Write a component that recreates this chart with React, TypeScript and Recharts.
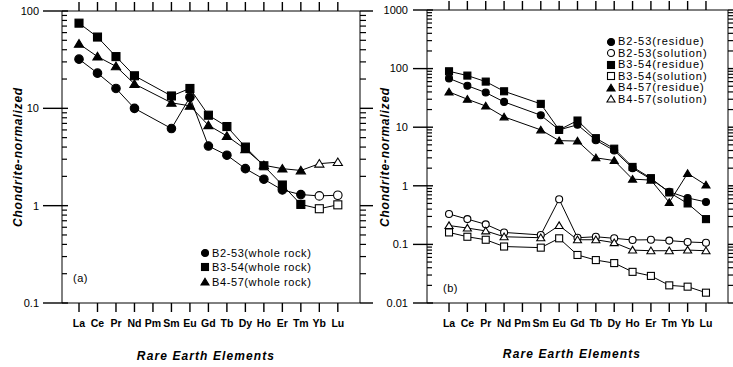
import React from 'react';
import { LineChart, Line, XAxis, YAxis, Legend, ReferenceLine } from 'recharts';

const REE = ['La', 'Ce', 'Pr', 'Nd', 'Pm', 'Sm', 'Eu', 'Gd', 'Tb', 'Dy', 'Ho', 'Er', 'Tm', 'Yb', 'Lu'];

// (a) whole rock
const A_B2_53 = [32, 23, 16, 10, null, 6.2, 13, 4.1, 3.3, 2.4, 1.87, 1.45, 1.3, 1.26, 1.28];
const A_B3_54 = [75, 54, 34, 21.6, null, 13.4, 16, 8.5, 6.5, 4.0, 2.57, 1.63, 1.03, 0.93, 1.02];
const A_B4_57 = [46, 34, 27, 17.8, null, 11.4, 10.6, 6.7, 5.2, 3.8, 2.6, 2.4, 2.3, 2.7, 2.8];

// (b) residue / solution
const B_B2_53_RES = [68, 51, 39, 27, null, 16, 9, 11, 6.0, 4.0, 2.0, 1.3, 0.79, 0.62, 0.53];
const B_B2_53_SOL = [0.33, 0.27, 0.22, 0.16, null, 0.145, 0.59, 0.13, 0.135, 0.127, 0.119, 0.12, 0.116, 0.11, 0.107];
const B_B3_54_RES = [90, 76, 60, 41, null, 25, 9, 13, 6.5, 4.3, 2.1, 1.35, 0.77, 0.5, 0.27];
const B_B3_54_SOL = [0.16, 0.135, 0.12, 0.092, null, 0.088, 0.127, 0.066, 0.054, 0.048, 0.034, 0.029, 0.02, 0.019, 0.015];
const B_B4_57_RES = [40, 30, 23, 15, null, 9, 5.9, 5.8, 3.0, 2.7, 1.3, 1.25, 0.52, 1.63, 1.03];
const B_B4_57_SOL = [0.21, 0.19, 0.17, 0.135, null, 0.13, 0.21, 0.12, 0.12, 0.107, 0.08, 0.078, 0.078, 0.08, 0.078];

const A_Y_TICKS = [0.1, 1, 10, 100];
const A_Y_LABELS = ['0.1', '1', '10', '100'];
const B_Y_TICKS = [0.01, 0.1, 1, 10, 100, 1000];
const B_Y_LABELS = ['0.01', '0.1', '1', '10', '100', '1000'];
const MINOR_MULT = [2, 3, 4, 5, 6, 7, 8, 9];

const A_LEGEND = ['B2-53(whole rock)', 'B3-54(whole rock)', 'B4-57(whole rock)'];
const B_LEGEND = ['B2-53(residue)', 'B2-53(solution)', 'B3-54(residue)', 'B3-54(solution)', 'B4-57(residue)', 'B4-57(solution)'];

const FONT = '"Liberation Sans", Arial, Helvetica, sans-serif';
const IDX = REE.map((_, i) => i);
const INK = '#000';

// layout (pixels)
const A_W = 376;
const A_MARGIN = { top: 10, right: 16, bottom: 24, left: 2 };
const A_YW = 60;
const B_LEFT = 370;
const B_W = 363;
const B_MARGIN = { top: 9, right: 5, bottom: 24, left: 2 };
const B_YW = 55;
const H = 367;

function minorTicks(majors: number[]) {
  const out: number[] = [];
  for (let k = 0; k < majors.length - 1; k++) {
    for (const m of MINOR_MULT) out.push(+(majors[k] * m).toPrecision(6));
  }
  return out;
}

type Shape = 'circle' | 'square' | 'triangle';

function Marker({ shape, cx, cy, size, fill }: { shape: Shape; cx: number; cy: number; size: number; fill: string }) {
  const h = size / 2;
  if (shape === 'circle') return <circle cx={cx} cy={cy} r={h} fill={fill} stroke={INK} strokeWidth={1.1} />;
  if (shape === 'square')
    return <rect x={cx - h} y={cy - h} width={size} height={size} fill={fill} stroke={INK} strokeWidth={1.1} />;
  const w = h * 1.15;
  return (
    <polygon
      points={`${cx},${cy - h * 1.05} ${cx - w},${cy + h * 0.85} ${cx + w},${cy + h * 0.85}`}
      fill={fill}
      stroke={INK}
      strokeWidth={1.1}
    />
  );
}

function makeDot(shape: Shape, size: number, filled: boolean, openIdx: number[]) {
  return (props: any) => {
    const { cx, cy, index, value } = props;
    if (cx == null || cy == null || value == null || isNaN(cy)) return <g key={`e${index}`} />;
    const fill = filled && !openIdx.includes(index) ? INK : '#fff';
    return <Marker key={`m${index}`} shape={shape} cx={cx} cy={cy} size={size} fill={fill} />;
  };
}

// tick labels only (tick marks are drawn by reference-line shapes)
function makeYLabel(majors: number[], labels: string[], offset: number) {
  return (props: any) => {
    const { x, y, payload } = props;
    const mi = majors.findIndex((m) => Math.abs(m - payload.value) / m < 1e-6);
    if (mi < 0) return <g />;
    return (
      <text x={x - offset} y={y} dy="0.35em" textAnchor="end" fontSize={11} fill={INK} fontFamily={FONT}>
        {labels[mi]}
      </text>
    );
  };
}

// horizontal tick marks on the left and right frame for a y value
function yTickShape(leftOut: number, leftIn: number, rightOut: number, w: number) {
  return (props: any) => {
    const xa = Math.min(props.x1, props.x2);
    const xb = Math.max(props.x1, props.x2);
    const y = props.y1;
    return (
      <g>
        <line x1={xa - leftOut} x2={xa + leftIn} y1={y} y2={y} stroke={INK} strokeWidth={w} />
        <line x1={xb} x2={xb + rightOut} y1={y} y2={y} stroke={INK} strokeWidth={w} />
      </g>
    );
  };
}

// vertical tick marks above the top frame and below the bottom frame for an element
function xTickShape(len: number) {
  return (props: any) => {
    const ya = Math.min(props.y1, props.y2);
    const yb = Math.max(props.y1, props.y2);
    const x = props.x1;
    return (
      <g>
        <line x1={x} x2={x} y1={ya - len} y2={ya} stroke={INK} strokeWidth={1.4} />
        <line x1={x} x2={x} y1={yb} y2={yb + len} stroke={INK} strokeWidth={1.4} />
      </g>
    );
  };
}

function LegendBox({
  items,
  shapes,
  fills,
  rowH,
  fontSize,
  spacing,
}: {
  items: string[];
  shapes: Shape[];
  fills: string[];
  rowH: number;
  fontSize: number;
  spacing: number;
}) {
  return (
    <div style={{ fontFamily: FONT, fontSize, color: INK, letterSpacing: spacing }}>
      {items.map((t, i) => (
        <div key={t} style={{ height: rowH, lineHeight: `${rowH}px`, display: 'flex', alignItems: 'center', whiteSpace: 'nowrap' }}>
          <svg width={10} height={10} style={{ marginRight: 2, flex: 'none' }}>
            <Marker shape={shapes[i]} cx={5} cy={5} size={7} fill={fills[i]} />
          </svg>
          <span>{t}</span>
        </div>
      ))}
    </div>
  );
}

const dataA = REE.map((el, i) => ({ i, el, b253: A_B2_53[i], b354: A_B3_54[i], b457: A_B4_57[i] }));
const dataB = REE.map((el, i) => ({
  i,
  el,
  r253: B_B2_53_RES[i],
  s253: B_B2_53_SOL[i],
  r354: B_B3_54_RES[i],
  s354: B_B3_54_SOL[i],
  r457: B_B4_57_RES[i],
  s457: B_B4_57_SOL[i],
}));

const xTickStyle = { fontSize: 10.5, fontWeight: 'bold', fill: INK, fontFamily: FONT };

const titleStyle: React.CSSProperties = {
  position: 'absolute',
  fontFamily: FONT,
  fontSize: 12,
  fontWeight: 'bold',
  fontStyle: 'italic',
  whiteSpace: 'nowrap',
  color: INK,
};

function frame(xDom: [number, number], yMajors: number[], majorOut: number) {
  const els: React.ReactNode[] = [];
  yMajors.forEach((v) =>
    els.push(
      <ReferenceLine key={`ym${v}`} xAxisId="b" yAxisId="l" y={v} ifOverflow="visible" shape={yTickShape(majorOut, 6, 13, 1.4)} />
    )
  );
  minorTicks(yMajors).forEach((v) =>
    els.push(<ReferenceLine key={`yn${v}`} xAxisId="b" yAxisId="l" y={v} ifOverflow="visible" shape={yTickShape(0, 5, 6, 1.2)} />)
  );
  IDX.forEach((i) =>
    els.push(<ReferenceLine key={`x${i}`} xAxisId="b" yAxisId="l" x={i} ifOverflow="visible" shape={xTickShape(9)} />)
  );
  els.push(<ReferenceLine key="rb" xAxisId="b" yAxisId="l" x={xDom[1]} stroke={INK} ifOverflow="visible" />);
  return els;
}

export default function App() {
  const aDom: [number, number] = [-0.92, 15.2];
  const bDom: [number, number] = [-1.2, 15.2];
  const aTicks = [...A_Y_TICKS, ...minorTicks(A_Y_TICKS)].sort((a, b) => a - b);
  const bTicks = [...B_Y_TICKS, ...minorTicks(B_Y_TICKS)].sort((a, b) => a - b);

  return (
    <div style={{ position: 'absolute', left: 0, top: 0, width: 733, height: H, background: '#fff' }}>
      <div style={{ position: 'absolute', left: 0, top: 0 }}>
        <LineChart width={A_W} height={H} data={dataA} margin={A_MARGIN}>
          <XAxis
            xAxisId="b"
            dataKey="i"
            type="number"
            domain={aDom}
            allowDataOverflow
            ticks={IDX}
            interval={0}
            tickFormatter={(v: number) => REE[v]}
            tickSize={9}
            tickMargin={8}
            tickLine={false}
            height={40}
            stroke={INK}
            tick={xTickStyle}
          />
          <XAxis
            xAxisId="t"
            orientation="top"
            dataKey="i"
            type="number"
            domain={aDom}
            allowDataOverflow
            tick={false}
            tickLine={false}
            height={1}
            stroke={INK}
          />
          <YAxis
            yAxisId="l"
            type="number"
            scale="log"
            domain={[0.1, 100]}
            allowDataOverflow
            ticks={aTicks}
            interval={0}
            width={A_YW}
            tickSize={0}
            tickMargin={0}
            tickLine={false}
            tick={makeYLabel(A_Y_TICKS, A_Y_LABELS, 23)}
            stroke={INK}
          />
          {frame(aDom, A_Y_TICKS, 19)}
          <Line xAxisId="b" yAxisId="l" dataKey="b253" name={A_LEGEND[0]} stroke={INK} isAnimationActive={false} connectNulls dot={makeDot('circle', 8.5, true, [13, 14])} />
          <Line xAxisId="b" yAxisId="l" dataKey="b354" name={A_LEGEND[1]} stroke={INK} isAnimationActive={false} connectNulls dot={makeDot('square', 8, true, [13, 14])} />
          <Line xAxisId="b" yAxisId="l" dataKey="b457" name={A_LEGEND[2]} stroke={INK} isAnimationActive={false} connectNulls dot={makeDot('triangle', 8, true, [13, 14])} />
          <Legend
            layout="horizontal"
            verticalAlign="middle"
            align="center"
            wrapperStyle={{ left: 200, top: 246, width: 'auto', height: 'auto' }}
            content={() => (
              <LegendBox
                items={A_LEGEND}
                shapes={['circle', 'square', 'triangle']}
                fills={[INK, INK, INK]}
                rowH={14.3}
                fontSize={11}
                spacing={0.6}
              />
            )}
          />
        </LineChart>
      </div>

      <div style={{ position: 'absolute', left: B_LEFT, top: 0 }}>
        <LineChart width={B_W} height={H} data={dataB} margin={B_MARGIN}>
          <XAxis
            xAxisId="b"
            dataKey="i"
            type="number"
            domain={bDom}
            allowDataOverflow
            ticks={IDX}
            interval={0}
            tickFormatter={(v: number) => REE[v]}
            tickSize={9}
            tickMargin={8}
            tickLine={false}
            height={40}
            stroke={INK}
            tick={xTickStyle}
          />
          <XAxis
            xAxisId="t"
            orientation="top"
            dataKey="i"
            type="number"
            domain={bDom}
            allowDataOverflow
            tick={false}
            tickLine={false}
            height={1}
            stroke={INK}
          />
          <YAxis
            yAxisId="l"
            type="number"
            scale="log"
            domain={[0.01, 1000]}
            allowDataOverflow
            ticks={bTicks}
            interval={0}
            width={B_YW}
            tickSize={0}
            tickMargin={0}
            tickLine={false}
            tick={makeYLabel(B_Y_TICKS, B_Y_LABELS, 19)}
            stroke={INK}
          />
          {frame(bDom, B_Y_TICKS, 14)}
          <Line xAxisId="b" yAxisId="l" dataKey="r253" name={B_LEGEND[0]} stroke={INK} isAnimationActive={false} connectNulls dot={makeDot('circle', 7, true, [])} />
          <Line xAxisId="b" yAxisId="l" dataKey="s253" name={B_LEGEND[1]} stroke={INK} isAnimationActive={false} connectNulls dot={makeDot('circle', 7, false, [])} />
          <Line xAxisId="b" yAxisId="l" dataKey="r354" name={B_LEGEND[2]} stroke={INK} isAnimationActive={false} connectNulls dot={makeDot('square', 7, true, [])} />
          <Line xAxisId="b" yAxisId="l" dataKey="s354" name={B_LEGEND[3]} stroke={INK} isAnimationActive={false} connectNulls dot={makeDot('square', 7, false, [])} />
          <Line xAxisId="b" yAxisId="l" dataKey="r457" name={B_LEGEND[4]} stroke={INK} isAnimationActive={false} connectNulls dot={makeDot('triangle', 7, true, [])} />
          <Line xAxisId="b" yAxisId="l" dataKey="s457" name={B_LEGEND[5]} stroke={INK} isAnimationActive={false} connectNulls dot={makeDot('triangle', 7, false, [])} />
          <Legend
            layout="horizontal"
            verticalAlign="middle"
            align="center"
            wrapperStyle={{ left: 606 - B_LEFT, top: 36, width: 'auto', height: 'auto' }}
            content={() => (
              <LegendBox
                items={B_LEGEND}
                shapes={['circle', 'circle', 'square', 'square', 'triangle', 'triangle']}
                fills={[INK, '#fff', INK, '#fff', INK, '#fff']}
                rowH={11.5}
                fontSize={11}
                spacing={1}
              />
            )}
          />
        </LineChart>
      </div>

      <div style={{ ...titleStyle, left: 18, top: 157, transform: 'translate(-50%, -50%) rotate(-90deg)', letterSpacing: 0.8 }}>
        Chondrite-normalized
      </div>
      <div style={{ ...titleStyle, left: 385, top: 157, transform: 'translate(-50%, -50%) rotate(-90deg)', letterSpacing: 0.8 }}>
        Chondrite-normalized
      </div>
      <div style={{ ...titleStyle, left: 206, top: 356, transform: 'translate(-50%, -50%)', letterSpacing: 1.1 }}>
        Rare Earth Elements
      </div>
      <div style={{ ...titleStyle, left: 572, top: 354, transform: 'translate(-50%, -50%)', letterSpacing: 1.1 }}>
        Rare Earth Elements
      </div>
      <div style={{ position: 'absolute', left: 73, top: 278, transform: 'translateY(-50%)', fontFamily: FONT, fontSize: 11, letterSpacing: 0.5 }}>
        (a)
      </div>
      <div style={{ position: 'absolute', left: 443, top: 288, transform: 'translateY(-50%)', fontFamily: FONT, fontSize: 11, letterSpacing: 0.5 }}>
        (b)
      </div>
    </div>
  );
}
